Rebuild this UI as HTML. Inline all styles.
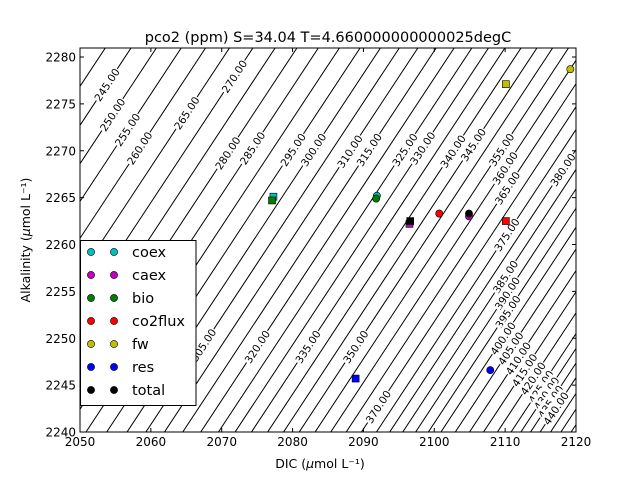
<!DOCTYPE html>
<html><head><meta charset="utf-8"><style>
body{margin:0;background:#fff;}
svg text{font-family:"DejaVu Sans","Liberation Sans",sans-serif;}
</style></head><body>
<svg id="chart" width="640" height="480" xmlns="http://www.w3.org/2000/svg">
<rect x="0" y="0" width="640" height="480" fill="#fff"/>
<defs><clipPath id="plotclip"><rect x="80" y="48" width="496" height="384"/></clipPath></defs>
<text x="328" y="42" text-anchor="middle" font-size="14.5">pco2 (ppm) S=34.04 T=4.660000000000025degC</text>
<g id="contours" clip-path="url(#plotclip)"></g>
<g id="labels" clip-path="url(#plotclip)"></g>
<g id="points"></g>
<rect x="80" y="48" width="496" height="384" fill="none" stroke="#000" stroke-width="1"/>
<g id="axes"></g>
<text x="320" y="468" text-anchor="middle" font-size="12.5">DIC (<tspan font-style="italic">μ</tspan>mol L⁻¹)</text>
<text transform="translate(30,240) rotate(-90)" text-anchor="middle" font-size="12.5">Alkalinity (<tspan font-style="italic">μ</tspan>mol L⁻¹)</text>
<g id="legend"></g>
</svg>
<script>
const xTicks=[2050,2060,2070,2080,2090,2100,2110,2120];
const yTicks=[2240,2245,2250,2255,2260,2265,2270,2275,2280];
const levels=[];for(let L=225;L<=460;L+=5)levels.push(L);
// calibration of pCO2 field: DIC where each level crosses Alk=2260
const fieldLevels=[225,245,270,300,325,350,375,400,425,440,460];
const fieldDIC=[2023.9,2038.9,2056.1,2074.1,2087.0,2098.4,2109.3,2118.4,2128.3,2132.4,2138.2];
const labelLevels=[245,250,255,260,265,270,280,285,295,300,305,310,315,320,325,330,335,340,345,350,355,360,365,370,375,380,385,390,395,400,405,410,415,420,425,430,435,440];
const labelAlk=[2277.05,2273.85,2272.25,2270.29,2274.03,2277.94,2269.76,2270.29,2270.11,2270.11,2249.28,2269.94,2270.11,2249.10,2270.11,2270.29,2249.10,2269.94,2270.65,2249.10,2270.11,2268.16,2266.03,2242.70,2261.05,2267.98,2256.57,2254.79,2252.83,2250.0,2248.93,2247.86,2246.61,2245.73,2244.83,2244.13,2243.23,2242.53];
const series=['coex','caex','bio','co2flux','fw','res','total'];
const colors=['#00bfbf','#bf00bf','#007f00','#ff0000','#bfbf00','#0000ff','#000000'];
const sqDIC=[2077.3,2096.5,2077.1,2110.1,2110.1,2088.9,2096.6];
const sqAlk=[2265.1,2262.2,2264.7,2262.5,2277.1,2245.7,2262.5];
const ciDIC=[2091.9,2104.9,2091.8,2100.7,2119.2,2107.9,2104.9];
const ciAlk=[2265.2,2263.0,2264.9,2263.3,2278.7,2246.6,2263.3];

const NS='http://www.w3.org/2000/svg';
const X=d=>80+(d-2050)*496/70;
const Y=a=>432-(a-2240)*9.375;
const K=0.873;
function d0(L){
  const l=Math.log(L);
  for(let i=0;i<fieldLevels.length-1;i++){
    const a=Math.log(fieldLevels[i]),b=Math.log(fieldLevels[i+1]);
    if(l<=b||i===fieldLevels.length-2){const t=(l-a)/(b-a);return fieldDIC[i]+t*(fieldDIC[i+1]-fieldDIC[i]);}
  }
}
const dicAt=(L,a)=>d0(L)+K*(a-2260);
const ANG=-Math.atan2(9.375,K*496/70)*180/Math.PI;
function mk(tag,attrs,parent){const e=document.createElementNS(NS,tag);for(const k in attrs)e.setAttribute(k,attrs[k]);parent.appendChild(e);return e;}

const gC=document.getElementById('contours');
levels.forEach(L=>{
  const l=mk('line',{x1:X(dicAt(L,2235)),y1:Y(2235),x2:X(dicAt(L,2285)),y2:Y(2285),stroke:'#000','stroke-width':1},gC);
  
  
});
const gL=document.getElementById('labels');
labelLevels.forEach((L,i)=>{
  const a=labelAlk[i];const x=X(dicAt(L,a)),y=Y(a);
  const g=mk('g',{transform:`translate(${x},${y}) rotate(${ANG})`},gL);
  
  
  mk('rect',{x:-19,y:-7,width:38,height:13,fill:'#fff'},g);
  const t=mk('text',{x:0,y:4,'text-anchor':'middle','font-size':'10.5'},g);
  t.textContent=L.toFixed(2);
});
const gP=document.getElementById('points');
series.forEach((s,i)=>{
  const r=mk('rect',{x:X(sqDIC[i])-3.5,y:Y(sqAlk[i])-3.5,width:7,height:7,fill:colors[i],stroke:'#000','stroke-width':0.6},gP);
  
  
  const c=mk('circle',{cx:X(ciDIC[i]),cy:Y(ciAlk[i]),r:3.6,fill:colors[i],stroke:'#000','stroke-width':0.6},gP);
  
  
});
const gA=document.getElementById('axes');
xTicks.forEach(t=>{
  const x=X(t);
  mk('line',{x1:x,y1:432,x2:x,y2:428,stroke:'#000'},gA);
  mk('line',{x1:x,y1:48,x2:x,y2:52,stroke:'#000'},gA);
  const tx=mk('text',{x:x,y:446,'text-anchor':'middle','font-size':'12'},gA);
  tx.textContent=t;
  
  
});
yTicks.forEach(t=>{
  const y=Y(t);
  mk('line',{x1:80,y1:y,x2:84,y2:y,stroke:'#000'},gA);
  mk('line',{x1:576,y1:y,x2:572,y2:y,stroke:'#000'},gA);
  const tx=mk('text',{x:76,y:y+4.5,'text-anchor':'end','font-size':'12'},gA);
  tx.textContent=t;
  
  
});
const gG=document.getElementById('legend');
mk('rect',{x:80.5,y:240.5,width:115.5,height:165,fill:'#fff',stroke:'#000','stroke-width':1},gG);
series.forEach((s,i)=>{
  const y=252+i*23;
  const e=mk('g',{},gG);
  
  
  mk('circle',{cx:91,cy:y,r:3.6,fill:colors[i],stroke:'#000','stroke-width':0.6},e);
  mk('circle',{cx:114,cy:y,r:3.6,fill:colors[i],stroke:'#000','stroke-width':0.6},e);
  const t=mk('text',{x:132,y:y+5,'font-size':'14.5'},e);
  t.textContent=s;
});
</script>
</body></html>
